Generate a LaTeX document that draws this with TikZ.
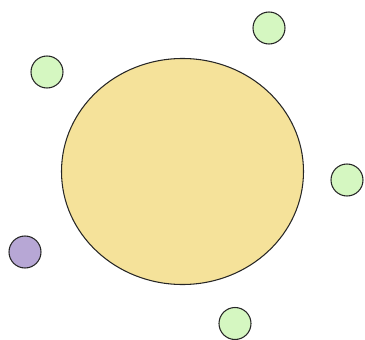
\documentclass[tikz,border=0pt]{standalone}
\usepackage{tikz}
\usetikzlibrary{shapes.geometric}

\definecolor{sunfill}{HTML}{F5E29A}
\definecolor{moonfill}{HTML}{D5F7C1}
\definecolor{oddfill}{HTML}{B7A7D5}

\begin{document}
\begin{tikzpicture}[
    x=0.03cm, y=-0.03cm,
    moon/.style={draw=black!85, line width=0.9pt, circle,
                 minimum size=0.96cm, inner sep=0pt, fill=moonfill}
  ]
  \useasboundingbox (0,0) rectangle (365,340);

  \node[draw=black!85, line width=0.9pt, ellipse, inner sep=0pt,
        minimum width=7.26cm, minimum height=6.78cm,
        fill=sunfill] (core) at (182.5,171.5) {};

  \node[moon] (m1) at (269,28) {};
  \node[moon] (m2) at (47,72) {};
  \node[moon] (m3) at (347,180) {};
  \node[moon, fill=oddfill] (m4) at (25,252) {};
  \node[moon] (m5) at (235,323.5) {};
\end{tikzpicture}
\end{document}
